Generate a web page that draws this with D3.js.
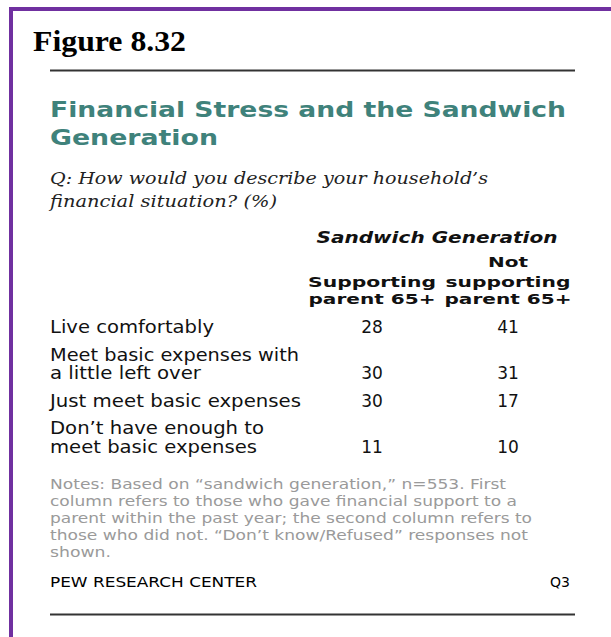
<!DOCTYPE html>
<html><head><meta charset="utf-8">
<script src="https://cdn.jsdelivr.net/npm/d3@7"></script>
<style>html,body{margin:0;padding:0;background:#fff;} svg{display:block}</style>
</head><body><svg id="c" width="611" height="637"></svg>
<script>
// ---- data ----
const categories = [
  ["Live comfortably"],
  ["Meet basic expenses with", "a little left over"],
  ["Just meet basic expenses"],
  ["Don\u2019t have enough to", "meet basic expenses"]
];
const supporting = [28, 30, 30, 11];
const notSupporting = [41, 31, 17, 10];
const columnKeys = ["supporting", "notSupporting"];
const columnHeaders = [["Supporting", "parent 65+"], ["Not", "supporting", "parent 65+"]];
const groupHeader = "Sandwich Generation";
const figureLabel = "Figure 8.32";
const titleLines = ["Financial Stress and the Sandwich", "Generation"];
const questionLines = ["Q: How would you describe your household\u2019s", "financial situation? (%)"];
const noteLines = [
  "Notes: Based on \u201csandwich generation,\u201d n=553.  First",
  "column refers to those who  gave financial support to a",
  "parent within the past year; the second column refers to",
  "those who did not. \u201cDon\u2019t know/Refused\u201d responses not",
  "shown."
];
const sourceText = "PEW RESEARCH  CENTER";
const sourceCode = "Q3";

// ---- layout ----
const svg = d3.select("#c");
const W = 611, H = 637;
const left = 50, right = 575;
const purple = "#7030a0", teal = "#3f827b", dark = "#111", grey = "#9a9a9a";

// frame
svg.append("rect").attr("x", 9).attr("y", 7).attr("width", 4).attr("height", H - 7).attr("fill", purple);
svg.append("rect").attr("x", 9).attr("y", 7).attr("width", W - 9).attr("height", 4).attr("fill", purple);

function txt(s, x, y, opts) {
  const t = svg.append("text").attr("x", x).attr("y", y).text(s)
    .attr("font-family", opts.family || "DejaVu Sans")
    .attr("font-size", opts.size)
    .attr("fill", opts.fill || dark);
  if (opts.weight) t.attr("font-weight", opts.weight);
  if (opts.style) t.attr("font-style", opts.style);
  if (opts.anchor) t.attr("text-anchor", opts.anchor);
  if (opts.len) t.attr("textLength", opts.len).attr("lengthAdjust", "spacingAndGlyphs");
  return t;
}

// figure label
txt(figureLabel, 33, 51, {family: "Liberation Serif", size: 30, weight: "bold", fill: "#000", len: 153});
svg.append("line").attr("x1", left).attr("x2", right).attr("y1", 70.5).attr("y2", 70.5)
  .attr("stroke", "#333").attr("stroke-width", 2);

// title
const titleLens = [516, 168];
titleLines.forEach((s, i) => txt(s, left, 117 + i * 28, {size: 21, weight: "bold", fill: teal, len: titleLens[i]}));

// question
const qLens = [438, 227];
questionLines.forEach((s, i) => txt(s, left, 184 + i * 23, {family: "DejaVu Serif", size: 17, style: "italic", fill: "#222", len: qLens[i]}));

// column scale
const x = d3.scaleBand().domain(columnKeys).range([304, 576]);
const cx = k => x(k) + x.bandwidth() / 2;

txt(groupHeader, 437, 243, {size: 16, weight: "bold", style: "italic", anchor: "middle", len: 241});
const hdrLens = {"Supporting": 128, "parent 65+": 127, "Not": 40, "supporting": 125};
columnKeys.forEach((k, ci) => {
  const lines = columnHeaders[ci];
  lines.forEach((s, li) => {
    const y = 303.5 - (lines.length - 1 - li) * 16.5 + (lines.length === 3 && li === 0 ? -4 : 0);
    txt(s, cx(k), y, {size: 14.5, weight: "bold", anchor: "middle", len: hdrLens[s]});
  });
});

// rows
const labelLens = {
  "Live comfortably": 164, "Meet basic expenses with": 249, "a little left over": 151,
  "Just meet basic expenses": 251, "Don\u2019t have enough to": 214, "meet basic expenses": 207
};
const values = {supporting, notSupporting};
let base = 333;
categories.forEach((lines, ri) => {
  lines.forEach((s, li) => txt(s, left, base + li * 18.5, {size: 17, len: labelLens[s]}));
  const lastY = base + (lines.length - 1) * 18.5;
  columnKeys.forEach(k => txt(String(values[k][ri]), cx(k), lastY, {size: 17, anchor: "middle"}));
  base = lastY + 27.5;
});

// notes
const noteLens = [456, 467, 482, 478, 61];
noteLines.forEach((s, i) => txt(s, left, 489 + i * 17, {size: 13.5, fill: grey, len: noteLens[i]}));

// source
txt(sourceText, left, 587, {size: 14, fill: "#000", len: 207});
txt(sourceCode, 570, 587, {size: 14, fill: "#000", anchor: "end"});

svg.append("line").attr("x1", left).attr("x2", right).attr("y1", 614.5).attr("y2", 614.5)
  .attr("stroke", "#333").attr("stroke-width", 2);
</script>
</body></html>
